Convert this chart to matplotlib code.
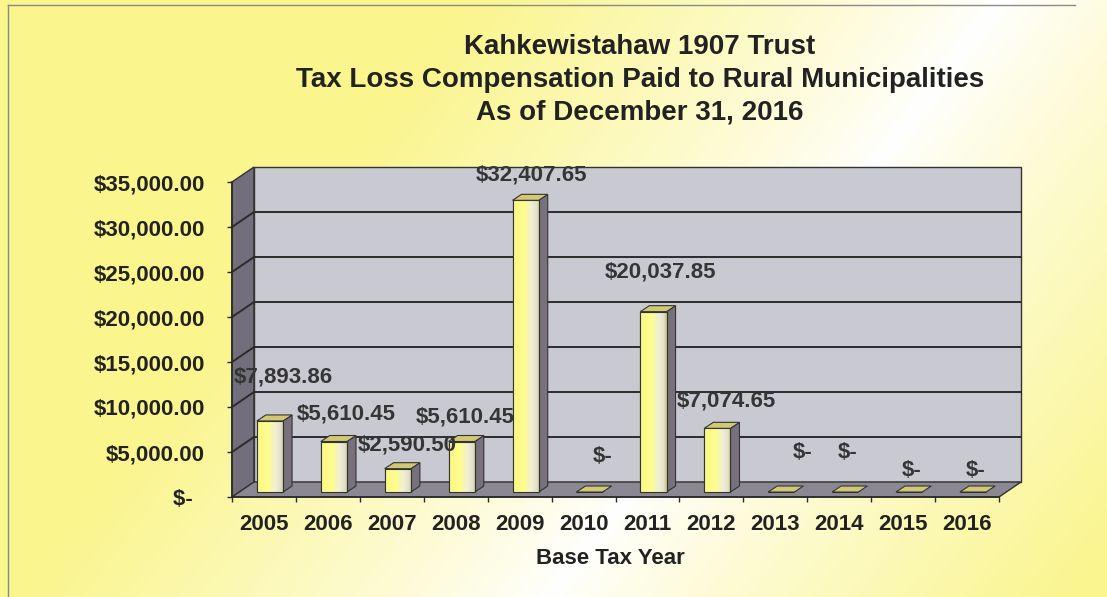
import matplotlib.pyplot as plt
import numpy as np
from matplotlib.colors import LinearSegmentedColormap
from matplotlib.patches import Polygon
from matplotlib.transforms import IdentityTransform, ScaledTranslation

# data
years = ['2005', '2006', '2007', '2008', '2009', '2010',
         '2011', '2012', '2013', '2014', '2015', '2016']
paid = [7893.86, 5610.45, 2590.50, 5610.45, 32407.65, 0.0,
        20037.85, 7074.65, 0.0, 0.0, 0.0, 0.0]
y_ticks = [0, 5000, 10000, 15000, 20000, 25000, 30000, 35000]
y_tick_labels = ['$-  ', '$5,000.00', '$10,000.00', '$15,000.00',
                 '$20,000.00', '$25,000.00', '$30,000.00', '$35,000.00']
title_lines = ['Kahkewistahaw 1907 Trust',
               'Tax Loss Compensation Paid to Rural Municipalities',
               'As of December 31, 2016']
x_title = 'Base Tax Year'

# label nudges (pixels right/up from the bar top)
label_nudge = [(19, 49), (18, 33), (15, 29), (10, 30), (12, 30), (19, 41),
               (13, 45), (15, 32), (27, 44), (8, 44), (8, 26), (9, 26)]

W, H, DPI = 1107, 597, 100
plt.rcParams['font.family'] = ['Liberation Sans', 'DejaVu Sans']
plt.rcParams['font.weight'] = 'bold'
TXT = '#222222'

fig = plt.figure(figsize=(W / DPI, H / DPI), dpi=DPI)

# background with yellow/white gradient
bg = fig.add_axes([0, 0, 1, 1])
bg.set_xlim(0, W)
bg.set_ylim(H, 0)
bg.axis('off')
xx, yy = np.meshgrid(np.arange(W), np.arange(H))
d = ((xx - 1000) * 597 - yy * (-450)) / np.hypot(450, 597)
t = np.clip(np.abs(d) / 430, 0, 1) ** 0.85
yellow = np.array([250, 245, 140]) / 255
img = (1 - t[..., None]) * np.ones(3) + t[..., None] * yellow
bg.imshow(img, extent=[0, W, H, 0], aspect='auto', zorder=0)
bg.plot([8, 1075], [5, 5], color='#8a8a8a', lw=1)
bg.plot([8, 8], [5, H], color='#8a8a8a', lw=1)

for i, line in enumerate(title_lines):
    bg.text(640, 47 + 33 * i, line, ha='center', va='center',
            fontsize=20, color=TXT, fontweight='bold')

# front plane of the 3d chart
ax = fig.add_axes([232 / W, 100 / H, 767 / W, 315 / H])
x_lo, x_hi = -0.5, len(years) - 0.5
y_top = y_ticks[-1]
ax.set_xlim(x_lo, x_hi)
ax.set_ylim(0, y_top)
ax.patch.set_visible(False)
for s in ['top', 'right']:
    ax.spines[s].set_visible(False)
for s in ['left', 'bottom']:
    ax.spines[s].set_color('#2a2a2a')
    ax.spines[s].set_linewidth(1.2)
    ax.spines[s].set_zorder(6)

BACK = (22, 15)
FRONT = (6, 5)
DEPTH = (9, 6)
bar_w = 0.41
EDGE = '#333333'


def px(x, y, off=(0, 0)):
    p = ax.transData.transform((x, y))
    return (p[0] + off[0], p[1] + off[1])


def add(a, b):
    return (a[0] + b[0], a[1] + b[1])


def poly(pts, fc, z, lw=1.0):
    ax.add_patch(Polygon(pts, closed=True, facecolor=fc, edgecolor=EDGE,
                         lw=lw, transform=IdentityTransform(), zorder=z,
                         clip_on=False))


poly([px(x_lo, 0), px(x_lo, y_top), px(x_lo, y_top, BACK), px(x_lo, 0, BACK)],
     '#726e7b', 1)
poly([px(x_lo, 0, BACK), px(x_lo, y_top, BACK), px(x_hi, y_top, BACK),
      px(x_hi, 0, BACK)], '#c9c9d2', 1)
poly([px(x_lo, 0), px(x_lo, 0, BACK), px(x_hi, 0, BACK), px(x_hi, 0)],
     '#8b8893', 1)

for v in y_ticks[1:-1]:
    pts = np.array([px(x_lo, v), px(x_lo, v, BACK), px(x_hi, v, BACK)])
    ax.plot(pts[:, 0], pts[:, 1], color='#2b2b2b', lw=1.4,
            transform=IdentityTransform(), zorder=2, clip_on=False)

# bars
front_tr = ax.transData + ScaledTranslation(FRONT[0] / DPI, FRONT[1] / DPI,
                                            fig.dpi_scale_trans)
xs = np.arange(len(years))
bars = ax.bar(xs, paid, width=bar_w, color='#fbf68c', edgecolor=EDGE,
              lw=0.8, transform=front_tr, zorder=4)

# front offset in data units, for the gradient images
inv = ax.transData.inverted()
o0 = inv.transform(px(0, 0))
o1 = inv.transform(px(0, 0, FRONT))
ux, uy = o1[0] - o0[0], o1[1] - o0[1]

face_cmap = LinearSegmentedColormap.from_list(
    'face', [(0.0, '#fbf785'), (0.42, '#fffd8e'), (0.72, '#eeedd9'),
             (0.9, '#e3e0c6'), (1.0, '#c8bd6c')])
grad = np.linspace(0, 1, 64)[None, :]
for b, x, v in zip(bars, xs, paid):
    x0, x1 = x - bar_w / 2, x + bar_w / 2
    if v > 0:
        im = ax.imshow(grad, cmap=face_cmap, aspect='auto',
                       extent=[x0 + ux, x1 + ux, uy, v + uy],
                       zorder=4.5, interpolation='bilinear')
        im.set_clip_path(b)
        ax.add_patch(Polygon(b.get_verts(), closed=True, fill=False,
                             edgecolor=EDGE, lw=0.8,
                             transform=IdentityTransform(), zorder=4.6))
    fd = add(FRONT, DEPTH)
    if v > 0:
        poly([px(x1, 0, FRONT), px(x1, v, FRONT), px(x1, v, fd), px(x1, 0, fd)],
             '#77717e', 3, lw=0.8)
    poly([px(x0, v, FRONT), px(x1, v, FRONT), px(x1, v, fd), px(x0, v, fd)],
         '#d2c874', 4.7, lw=0.8)

ax.set_xlim(x_lo, x_hi)
ax.set_ylim(0, y_top)

# data labels
for x, v, (dx, dy) in zip(xs, paid, label_nudge):
    txt = '$-' if v == 0 else f'${v:,.2f}'
    ax.annotate(txt, (x, v), xytext=(dx * 0.72, dy * 0.72),
                textcoords='offset points', ha='center', va='center',
                fontsize=16, color='#353535', fontweight='bold', zorder=8,
                annotation_clip=False)

# axes ticks
ax.set_yticks(y_ticks, y_tick_labels)
ax.tick_params(axis='y', direction='out', length=3.6, width=1, color='#2a2a2a',
               pad=15.8, labelsize=16, labelcolor=TXT)
ax.set_xticks(xs, years)
ax.set_xticks(np.arange(-0.5, len(years)), minor=True)
ax.tick_params(axis='x', which='major', length=0, pad=12.5, labelsize=16,
               labelcolor=TXT)
ax.tick_params(axis='x', which='minor', direction='out', length=3.6, width=1,
               color='#2a2a2a')
for lab in ax.get_xticklabels() + ax.get_yticklabels():
    lab.set_fontweight('bold')

ax.set_xlabel(x_title, fontsize=16, color=TXT, fontweight='bold', va='center')
ax.xaxis.set_label_coords((610 - 232) / 767, -(559 - 497) / 315)

fig.savefig('out.png', dpi=DPI)
